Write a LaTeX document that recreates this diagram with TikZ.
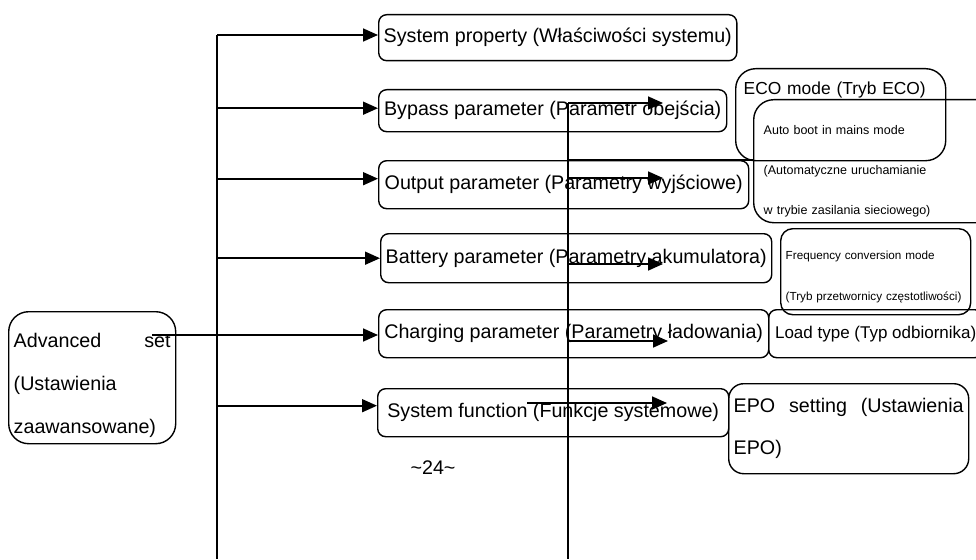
\documentclass[tikz,border=0pt]{standalone}
\usepackage{fontspec}
\setmainfont{Liberation Sans}
\usetikzlibrary{positioning,arrows.meta,calc}

\begin{document}
\begin{tikzpicture}[x=1pt, y=-1pt, line width=1.4pt,
  every node/.style={font=\fontsize{19.7pt}{43pt}\selectfont, align=left},
  setbox/.style={draw, rounded corners=8pt, anchor=north west, inner xsep=5pt, inner ysep=0pt},
  smalltext/.style={font=\fontsize{11.7pt}{41pt}\selectfont},
  feed/.style={-{Triangle[length=15pt, width=13pt]}, line width=1.7pt}]
  \useasboundingbox (0,0) rectangle (976,559);

  % left column
  \node[setbox, rounded corners=20pt, text width=157pt, text height=36pt, text depth=96pt] (adv) at (8,311)
    {Advanced\hskip0pt plus1filll set\\(Ustawienia\\zaawansowane)};
  \node[setbox, minimum width=357pt, minimum height=46pt] (sysprop) at (378,14) {System property (Właściwości systemu)};
  \node[setbox, minimum width=348pt, minimum height=42pt] (bypass) at (378,89) {Bypass parameter (Parametr obejścia)};
  \node[setbox, minimum width=370pt, minimum height=48pt] (output) at (378,160) {Output parameter (Parametry wyjściowe)};
  \node[setbox, minimum width=380pt, minimum height=49pt] (battery) at (380,233) {Battery parameter (Parametry akumulatora)};
  \node[setbox, minimum width=390pt, minimum height=48pt] (charging) at (378,309) {Charging parameter (Parametry ładowania)};
  \node[setbox, minimum width=351pt, minimum height=48pt] (sysfunc) at (377,388) {System function (Funkcje systemowe)};

  % right column
  \node[setbox, rounded corners=20pt, inner xsep=8pt, text width=194pt, text height=26pt, text depth=66pt,
        font=\fontsize{17.4pt}{20pt}\selectfont] (eco) at (735,68) {ECO mode (Tryb ECO)};
  \node[setbox, rounded corners=20pt, inner xsep=10pt, text width=240pt, text height=35pt, text depth=88pt,
        font=\fontsize{12.5pt}{40pt}\selectfont] (autoboot) at (753,99)
    {Auto boot in mains mode\\(Automatyczne uruchamianie\\w trybie zasilania sieciowego)};
  \node[setbox, smalltext, rounded corners=12pt, text width=180pt, text height=31pt, text depth=55pt] (freq) at (780,228)
    {Frequency conversion mode\\(Tryb przetwornicy częstotliwości)};
  \node[setbox, minimum width=214pt, minimum height=48pt, font=\fontsize{17pt}{20pt}\selectfont] (load) at (768,309)
    {Load type (Typ odbiornika)};
  \node[setbox, rounded corners=15pt, text width=230pt, text height=29pt, text depth=61pt,
        font=\fontsize{19.7pt}{42pt}\selectfont] (epo) at (728,383)
    {EPO\hskip0pt plus1filll setting\hskip0pt plus1filll (Ustawienia\\EPO)};

  \node (pagenum) at (433,468) {\textasciitilde24\textasciitilde};

  % trunk to the setting groups
  \coordinate (trunkL) at (217,35);
  \coordinate (trunkLend) at (217,559);
  \coordinate (advtap) at (152,335);
  \draw (trunkL) -- (trunkLend);
  \draw[feed] (trunkL) -- (sysprop.west |- trunkL);
  \draw[feed] (trunkL |- bypass.west) ++(0,-2.5) -- ($(bypass.west)+(0,-2.5)$);
  \draw[feed] (trunkL |- output.west) ++(0,-6) -- ($(output.west)+(0,-6)$);
  \draw[feed] (trunkL |- battery.west) -- (battery.west);
  \draw[feed] (advtap) -- (charging.west |- advtap);
  \draw[feed] (trunkL |- sysfunc.west) ++(0,-7) -- ($(sysfunc.west)+(0,-7)$);

  % second trunk
  \coordinate (trunkR) at (568,103);
  \coordinate (trunkRend) at (568,559);
  \coordinate (tipA) at (663,103);
  \coordinate (tipB) at (663,178);
  \coordinate (tipC) at (663,264);
  \coordinate (tipD) at (668,341);
  \coordinate (fnstart) at (527,403);
  \coordinate (fnend) at (667,403);
  \draw (trunkR) -- (trunkRend);
  \draw[feed] (trunkR) -- (tipA);
  \draw[feed] (trunkR |- tipB) -- (tipB);
  \draw[feed] (trunkR |- tipC) -- (tipC);
  \draw[feed] (trunkR |- tipD) -- (tipD);
  \draw[feed] (fnstart) -- (fnend);
  \draw (trunkR |- output.north) -- (autoboot.west |- output.north);
\end{tikzpicture}
\end{document}
